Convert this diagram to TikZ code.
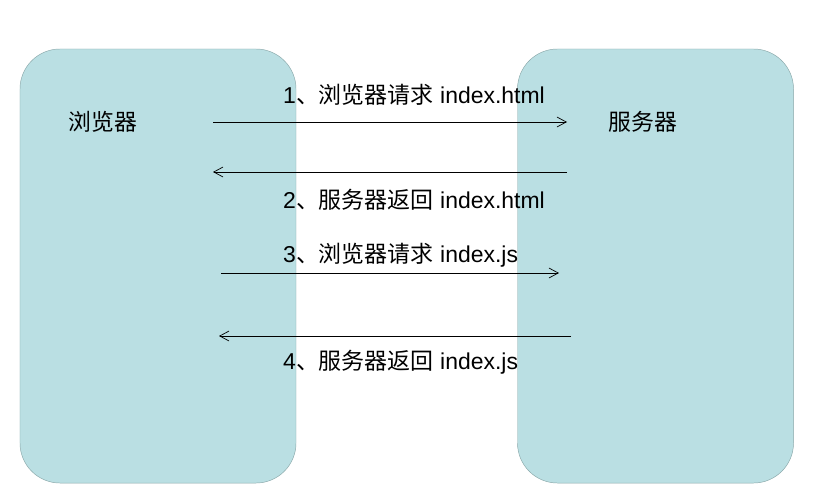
\documentclass[tikz,border=0pt]{standalone}
\usepackage{fontspec}
\usetikzlibrary{arrows.meta}
\setmainfont{Liberation Sans}
\newfontfamily\cjk{Noto Sans CJK SC}
\definecolor{paneFill}{RGB}{186,223,227}
\definecolor{paneLine}{RGB}{138,168,170}
\begin{document}
\begin{tikzpicture}[x=0.03cm, y=-0.03cm]
	\tikzstyle{pane} = [draw=paneLine, fill=paneFill, rounded corners=1.2cm, minimum width=8.28cm, minimum height=13.02cm, inner sep=0pt]
	\tikzstyle{title} = [font=\cjk\fontsize{19.5}{23}\selectfont, inner sep=0pt]
	\tikzstyle{msg} = [font=\fontsize{19.6}{23}\selectfont, anchor=west, inner sep=0pt]
	\tikzstyle{call} = [-{Straight Barb[length=0.28cm, width=0.3cm]}, line width=0.6pt]

	\useasboundingbox (0,0) rectangle (839,500);

%------------------------------------------------------------
	\node[pane] (browser) at (158,266) {};
	\node[pane] (server) at (655.5,266) {};

	\node[title] (tbrowser) at (103,122) {浏览器};
	\node[title] (tserver) at (643,122) {服务器};

%------------------------------------------------------------
	\coordinate (a1) at (213,122);
	\coordinate (b1) at (567,122);
	\coordinate (a2) at (213,172);
	\coordinate (b2) at (567,172);
	\coordinate (a3) at (221,273);
	\coordinate (b3) at (559,273);
	\coordinate (a4) at (219,336);
	\coordinate (b4) at (571,336);

	\draw[call] (a1) -- (b1);
	\draw[call] (b2) -- (a2);
	\draw[call] (a3) -- (b3);
	\draw[call] (b4) -- (a4);

%------------------------------------------------------------
	\node[msg] (m1) at (283,95) {1{\cjk 、浏览器请求} index.html};
	\node[msg] (m2) at (283,200) {2{\cjk 、服务器返回} index.html};
	\node[msg] (m3) at (283,255) {3{\cjk 、浏览器请求} index.js};
	\node[msg] (m4) at (283,362) {4{\cjk 、服务器返回} index.js};

\end{tikzpicture}
\end{document}
